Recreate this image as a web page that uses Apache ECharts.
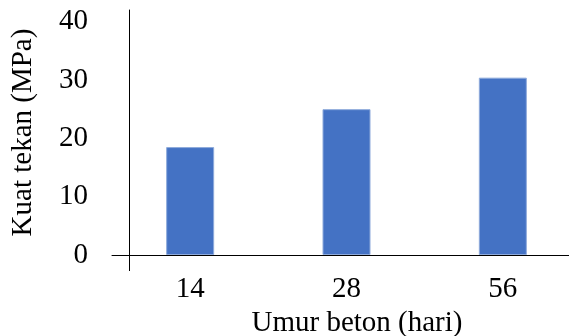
<!DOCTYPE html>
<html>
<head>
<meta charset="utf-8">
<script src="https://cdn.jsdelivr.net/npm/echarts@6/dist/echarts.min.js"></script>
<style>html,body{margin:0;padding:0;background:#fff}#c{width:569px;height:336px}</style>
</head>
<body>
<div id="c"></div>
<script>
var categories = ['14', '28', '56'];
var strength = [18.5, 25.0, 30.4];
var yTicks = [0, 10, 20, 30, 40];
var xTitle = 'Umur beton (hari)';
var yTitle = 'Kuat tekan (MPa)';

var FONT = '"Liberation Serif", "Times New Roman", serif';
var gridLeft = 112, gridTop = 10, gridBottom = 81, gridWidth = 469, yAxisShift = 17;

var chart = echarts.init(document.getElementById('c'), null, {renderer: 'canvas'});
chart.setOption({
  animation: false,
  backgroundColor: '#ffffff',
  grid: {left: gridLeft, top: gridTop, bottom: gridBottom, width: gridWidth, containLabel: false, outerBoundsMode: 'none'},
  xAxis: {
    type: 'category',
    data: categories,
    boundaryGap: true,
    axisLine: {show: true, lineStyle: {color: '#000', width: 1}},
    axisTick: {show: false},
    axisLabel: {color: '#000', fontFamily: FONT, fontSize: 29, margin: 20},
    splitLine: {show: false},
    name: xTitle,
    nameLocation: 'middle',
    nameGap: 50,
    nameTextStyle: {color: '#000', fontFamily: FONT, fontSize: 29, padding: [0, 0, 0, 21]}
  },
  yAxis: {
    type: 'value',
    min: 0,
    max: 42,
    interval: 10,
    offset: -yAxisShift,
    axisLine: {show: true, lineStyle: {color: '#000', width: 1}},
    axisTick: {show: false},
    splitLine: {show: false},
    axisLabel: {
      color: '#000', fontFamily: FONT, fontSize: 29, margin: 41,
      padding: [3, 0, 0, 0],
      showMaxLabel: false,
      formatter: function (v) { return yTicks.indexOf(v) >= 0 ? String(v) : ''; }
    },
    name: yTitle,
    nameLocation: 'middle',
    nameGap: 91,
    nameTextStyle: {color: '#000', fontFamily: FONT, fontSize: 29}
  },
  series: [{
    type: 'bar',
    data: strength,
    barWidth: 48,
    itemStyle: {color: '#4472C4', borderColor: '#8EAADB', borderWidth: 1}
  }]
});

// y-axis line continues a little below the category axis
var y0 = chart.convertToPixel({yAxisIndex: 0}, 0);
var ax = gridLeft + yAxisShift + 0.5;
chart.setOption({
  graphic: [{
    type: 'line',
    shape: {x1: ax, y1: y0, x2: ax, y2: y0 + 16},
    style: {stroke: '#000', lineWidth: 1}
  }]
});
</script>
</body>
</html>
